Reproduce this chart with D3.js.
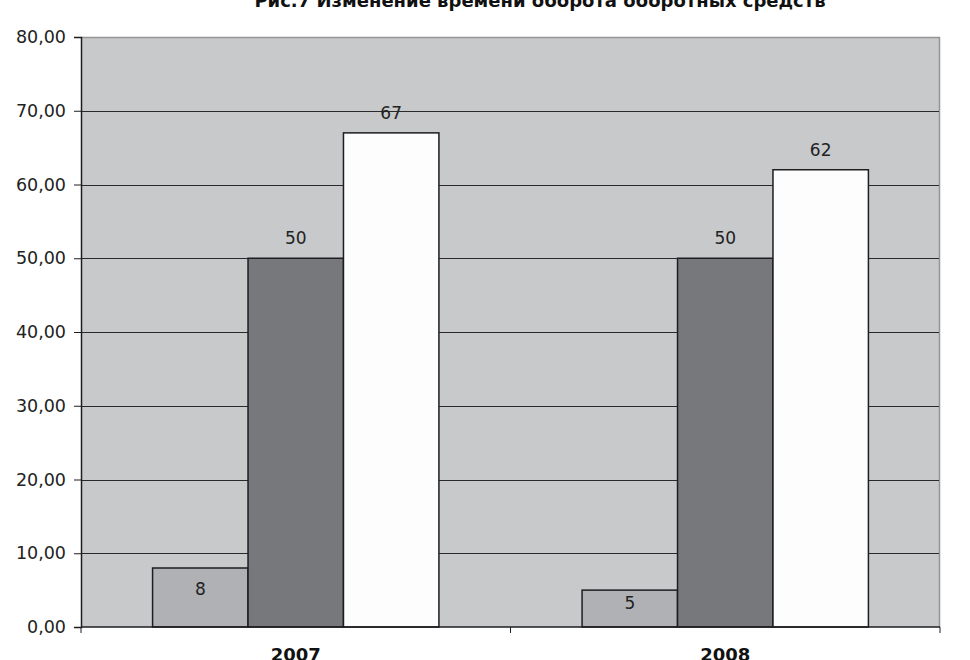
<!DOCTYPE html>
<html lang="ru">
  <head>
    <meta charset="utf-8">
    <title>Рис.7</title>
    <script src="https://cdnjs.cloudflare.com/ajax/libs/d3/7.8.5/d3.min.js"></script>
    <style type="text/css">
      body { margin: 0; background: #fff; }
      svg { display: block; }
    </style>
  </head>
  <body>
    <script type="text/javascript">

    // data
    var categories = ["2007", "2008"];
    var seriesA = [8, 5];
    var seriesB = [50, 50];
    var seriesC = [67, 62];
    var yTicks = [0, 10, 20, 30, 40, 50, 60, 70, 80];
    var title = "Рис.7 Изменение времени оборота оборотных средств";

    var w = 970, h = 660;
    var plotLeft = 81, plotRight = 940, plotTop = 37, plotBottom = 627;
    var colors = ["#b0b1b4", "#77787c", "#fdfdfd"];
    var font = "'DejaVu Sans', Verdana, sans-serif";

    var svg = d3.select("body").append("svg")
      .attr("width", w)
      .attr("height", h);

    var x0 = d3.scaleBand().domain(categories).range([plotLeft, plotRight]);
    var x1 = d3.scaleBand().domain([0, 1, 2])
      .range([0, x0.bandwidth()])
      .paddingOuter(0.75);
    var y = d3.scaleLinear().domain([0, 80]).range([plotBottom, plotTop]);

    // plot background
    svg.append("rect")
      .attr("x", plotLeft).attr("y", plotTop)
      .attr("width", plotRight - plotLeft).attr("height", plotBottom - plotTop)
      .attr("fill", "#c8c9cb");
    svg.append("path")
      .attr("d", "M" + plotLeft + "," + (plotTop + 0.5) + "H" + (plotRight - 0.5) + "V" + plotBottom)
      .attr("fill", "none").attr("stroke", "#939496").attr("stroke-width", 1.5);

    // gridlines
    svg.selectAll("line.grid")
      .data(yTicks.filter(function(d) { return d > 0 && d < 80; }))
      .enter().append("line")
      .attr("class", "grid")
      .attr("x1", plotLeft).attr("x2", plotRight - 1)
      .attr("y1", function(d) { return Math.round(y(d)) + 0.5; })
      .attr("y2", function(d) { return Math.round(y(d)) + 0.5; })
      .attr("stroke", "#2a2a2c").attr("stroke-width", 1);

    // bars
    var data = [];
    categories.forEach(function(c, i) {
      [seriesA[i], seriesB[i], seriesC[i]].forEach(function(v, j) {
        data.push({ cat: c, s: j, v: v });
      });
    });

    svg.selectAll("rect.bar")
      .data(data)
      .enter().append("rect")
      .attr("class", "bar")
      .attr("x", function(d) { return x0(d.cat) + x1(d.s); })
      .attr("y", function(d) { return y(d.v); })
      .attr("width", x1.bandwidth())
      .attr("height", function(d) { return plotBottom - y(d.v); })
      .attr("fill", function(d) { return colors[d.s]; })
      .attr("stroke", "#1e1e20")
      .attr("stroke-width", 1.5);

    // value labels
    svg.selectAll("text.val")
      .data(data)
      .enter().append("text")
      .attr("class", "val")
      .text(function(d) { return d.v; })
      .attr("text-anchor", "middle")
      .attr("dominant-baseline", "central")
      .attr("x", function(d) { return x0(d.cat) + x1(d.s) + x1.bandwidth() / 2; })
      .attr("y", function(d) {
        var t = y(d.v);
        return d.v < 10 ? t + (plotBottom - t) * 0.35 : t - 20;
      })
      .attr("font-family", font)
      .attr("font-size", "17px")
      .attr("fill", "#222");

    // y axis
    var yAxis = d3.axisLeft(y)
      .tickValues(yTicks)
      .tickSize(7)
      .tickPadding(8)
      .tickFormat(function(d) { return d3.format(".2f")(d).replace(".", ","); });
    var gy = svg.append("g")
      .attr("transform", "translate(" + plotLeft + ",0)")
      .call(yAxis);
    gy.select(".domain").attr("stroke", "#1e1e20").attr("stroke-width", 1.5);
    gy.selectAll(".tick line").attr("stroke", "#1e1e20");
    gy.selectAll(".tick text")
      .attr("font-family", font)
      .attr("font-size", "17.5px")
      .attr("fill", "#222");

    // x axis
    svg.append("line")
      .attr("x1", plotLeft).attr("x2", plotRight)
      .attr("y1", plotBottom).attr("y2", plotBottom)
      .attr("stroke", "#1e1e20").attr("stroke-width", 1.5);
    svg.selectAll("line.xtick")
      .data(categories.concat(["end"]))
      .enter().append("line")
      .attr("class", "xtick")
      .attr("x1", function(d) { return d === "end" ? plotRight : x0(d); })
      .attr("x2", function(d) { return d === "end" ? plotRight : x0(d); })
      .attr("y1", plotBottom).attr("y2", plotBottom + 6)
      .attr("stroke", "#1e1e20");
    svg.selectAll("text.cat")
      .data(categories)
      .enter().append("text")
      .attr("class", "cat")
      .text(function(d) { return d; })
      .attr("text-anchor", "middle")
      .attr("x", function(d) { return x0(d) + x0.bandwidth() / 2; })
      .attr("y", 661)
      .attr("font-family", font)
      .attr("font-weight", "bold")
      .attr("font-size", "18px")
      .attr("fill", "#111");

    // title
    svg.append("text")
      .text(title)
      .attr("text-anchor", "middle")
      .attr("x", 540)
      .attr("y", 7)
      .attr("font-family", font)
      .attr("font-weight", "bold")
      .attr("font-size", "18px")
      .attr("fill", "#111");

    </script>
  </body>
</html>
